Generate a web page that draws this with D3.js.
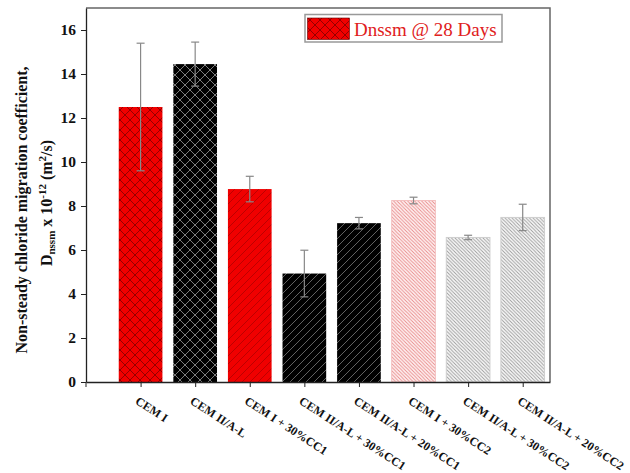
<!DOCTYPE html>
<html><head><meta charset="utf-8">
<script src="https://cdn.jsdelivr.net/npm/d3@7"></script>
<style>body{margin:0;background:#fff}svg{display:block}</style>
</head><body>
<svg id="c" width="630" height="473"></svg>
<script>
const categories = ["CEM I","CEM II/A-L","CEM I + 30%CC1","CEM II/A-L + 30%CC1","CEM II/A-L + 20%CC1","CEM I + 30%CC2","CEM II/A-L + 30%CC2","CEM II/A-L + 20%CC2"];
const values = [12.5, 14.45, 8.77, 4.93, 7.22, 8.25, 6.57, 7.48];
const errors = [2.9, 1.0, 0.58, 1.06, 0.26, 0.15, 0.1, 0.6];
const yTicks = [0,2,4,6,8,10,12,14,16];
const legendLabel = "Dnssm @ 28 Days";
const patternIds = ["xred","xblack","dred","dblack","dblack","bpink","bgray","bgray"];

const svg = d3.select("#c");
const defs = svg.append("defs");
function cross(id, bg, stroke){
  const p = defs.append("pattern").attr("id",id).attr("patternUnits","userSpaceOnUse").attr("width",10).attr("height",10);
  p.append("rect").attr("width",10).attr("height",10).attr("fill",bg);
  p.append("path").attr("d","M0,0L10,10M10,0L0,10M-1,9L1,11M9,-1L11,1").attr("stroke",stroke).attr("stroke-width",0.9).attr("fill","none");
}
function diag(id, bg, stroke, s, dir, w){
  const p = defs.append("pattern").attr("id",id).attr("patternUnits","userSpaceOnUse").attr("width",s).attr("height",s);
  p.append("rect").attr("width",s).attr("height",s).attr("fill",bg);
  const d = dir>0 ? `M0,${s}L${s},0M${-s/2},${s/2}L${s/2},${-s/2}M${s/2},${s*1.5}L${s*1.5},${s/2}` : `M0,0L${s},${s}M${-s/2},${s/2}L${s/2},${s*1.5}M${s/2},${-s/2}L${s*1.5},${s/2}`;
  p.append("path").attr("d",d).attr("stroke",stroke).attr("stroke-width",w).attr("fill","none");
}
cross("xred","#f00000","#8a0000");
cross("xblack","#000","#8a8a8a");
diag("dred","#f00000","#b00000",8,1,0.8);
diag("dblack","#000","#7a7a7a",8,1,0.8);
diag("bpink","#fff4f4","#e88888",3.5,-1,0.9);
diag("bgray","#fafafa","#9a9a9a",3.5,-1,0.9);

const x = d3.scaleLinear().domain([0,8.5]).range([86,550]);
const y = d3.scaleLinear().domain([0,17]).range([382,8]);
const bw = x(0.8)-x(0);

// frame
svg.append("path").attr("d",`M${x(0)},${y(17)}H${x(8.5)}V${y(0)}`).attr("fill","none").attr("stroke","#666").attr("stroke-width",1.5);

// bars
svg.append("g").selectAll("rect").data(values).join("rect")
  .attr("x",(d,i)=>x(i+1)-bw/2).attr("width",bw)
  .attr("y",d=>y(d)).attr("height",d=>y(0)-y(d))
  .attr("fill",(d,i)=>`url(#${patternIds[i]})`)
  .attr("stroke",(d,i)=> i===5?"#f3c0c0": (i>5?"#cfcfcf":"none")).attr("stroke-width",1);

// error bars
const eg = svg.append("g").attr("stroke","#888").attr("stroke-width",1.2);
values.forEach((v,i)=>{
  const cx = x(i+1);
  eg.append("line").attr("x1",cx).attr("x2",cx).attr("y1",y(v+errors[i])).attr("y2",y(v-errors[i]));
  eg.append("line").attr("x1",cx-4).attr("x2",cx+4).attr("y1",y(v+errors[i])).attr("y2",y(v+errors[i]));
  eg.append("line").attr("x1",cx-4).attr("x2",cx+4).attr("y1",y(v-errors[i])).attr("y2",y(v-errors[i]));
});

// y axis
const ya = svg.append("g").attr("transform",`translate(${x(0)},0)`)
  .call(d3.axisLeft(y).tickValues(yTicks).tickSize(5).tickPadding(5).tickSizeOuter(0));
ya.select(".domain").attr("stroke","#222").attr("stroke-width",1.3);
ya.selectAll(".tick line").attr("stroke","#222");
ya.selectAll("text").attr("font-family","Liberation Serif").attr("font-weight","bold").attr("font-size",15.5).attr("fill","#111");

// x axis
const xa = svg.append("g").attr("transform",`translate(0,${y(0)})`)
  .call(d3.axisBottom(x).tickValues(d3.range(1,9)).tickSize(5).tickSizeOuter(0).tickFormat(""));
xa.select(".domain").attr("stroke","#222").attr("stroke-width",1.3);
xa.selectAll(".tick line").attr("stroke","#222");
svg.append("line").attr("x1",x(0)).attr("x2",x(0)).attr("y1",y(0)).attr("y2",y(0)+5).attr("stroke","#222");

svg.append("g").selectAll("text").data(categories).join("text")
  .attr("transform",(d,i)=>`translate(${x(i+1)-6},${y(0)+21}) rotate(33)`)
  .attr("font-family","Liberation Serif").attr("font-weight","bold").attr("font-size",12).attr("fill","#111")
  .text(d=>d);

// y label
const yl = svg.append("g").attr("font-family","Liberation Serif").attr("font-weight","bold").attr("font-size",16).attr("fill","#111").attr("text-anchor","middle");
yl.append("text").attr("transform","translate(27,210) rotate(-90)").text("Non-steady chloride migration coefficient,");
const t2 = yl.append("text").attr("transform","translate(52,203) rotate(-90)");
t2.append("tspan").text("D");
t2.append("tspan").attr("font-size",11).attr("dy",3).text("nssm");
t2.append("tspan").attr("dy",-3).text(" x 10");
t2.append("tspan").attr("font-size",11).attr("dy",-6).text("-12");
t2.append("tspan").attr("dy",6).text(" (m");
t2.append("tspan").attr("font-size",11).attr("dy",-6).text("2");
t2.append("tspan").attr("dy",6).text("/s)");

// legend
const lg = svg.append("g");
lg.append("rect").attr("x",305).attr("y",14.5).attr("width",197).attr("height",27.5).attr("fill","#fff").attr("stroke","#999").attr("stroke-width",1.5);
lg.append("rect").attr("x",307.5).attr("y",18).attr("width",42).attr("height",21.5).attr("fill","url(#xred)").attr("stroke","#600").attr("stroke-width",0.6);
lg.append("text").attr("x",354).attr("y",35.5).attr("font-family","Liberation Serif").attr("font-size",19).attr("fill","#e02020").text(legendLabel);
</script>
</body></html>
